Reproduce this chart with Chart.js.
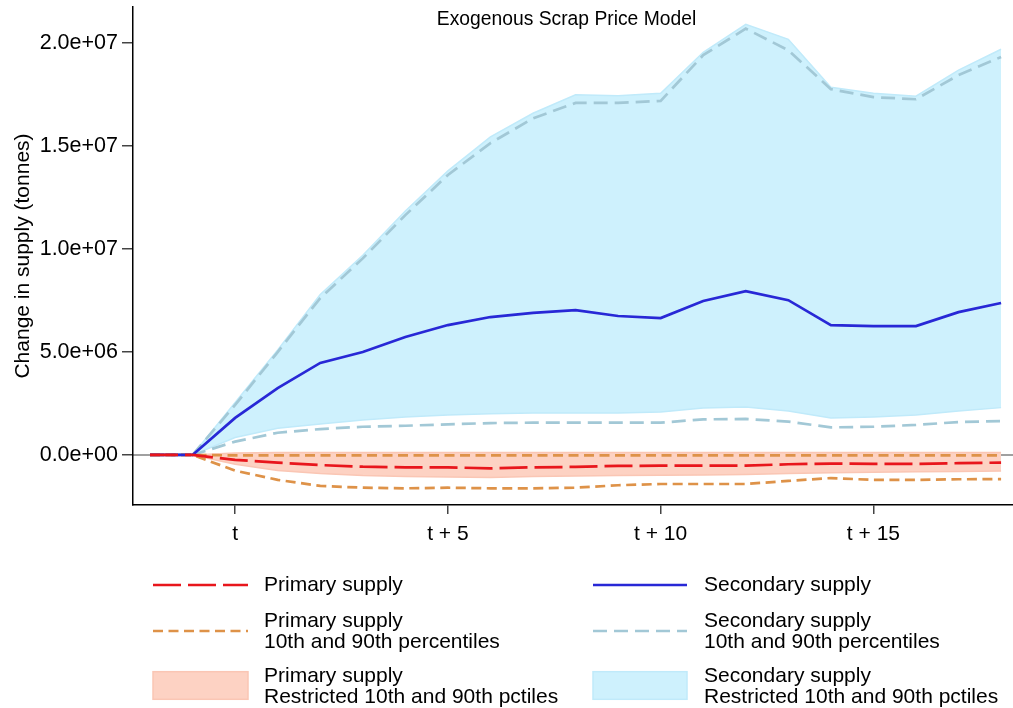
<!DOCTYPE html>
<html>
<head>
<meta charset="utf-8">
<script src="https://cdn.jsdelivr.net/npm/chart.js@4.4.1/dist/chart.umd.min.js"></script>
<style>
  html, body { margin: 0; padding: 0; background: #ffffff; }
  #wrap { width: 1013px; height: 708px; position: relative; }
</style>
</head>
<body>
<div id="wrap"><canvas id="c" width="1013" height="708"></canvas></div>
<script>
// ---- data (millions of tonnes) ----
const periods = [-2, -1, 0, 1, 2, 3, 4, 5, 6, 7, 8, 9, 10, 11, 12, 13, 14, 15, 16, 17, 18];

const primarySupply   = [0, 0, -0.24, -0.37, -0.49, -0.57, -0.60, -0.60, -0.65, -0.60, -0.58, -0.53, -0.52, -0.52, -0.52, -0.45, -0.42, -0.43, -0.43, -0.40, -0.37];
const primaryP90      = [0, 0, -0.02, -0.02, -0.02, -0.02, -0.02, -0.02, -0.02, -0.02, -0.02, -0.02, -0.02, -0.02, -0.02, -0.02, -0.02, -0.02, -0.02, -0.02, -0.02];
const primaryP10      = [0, 0, -0.76, -1.21, -1.50, -1.59, -1.62, -1.59, -1.62, -1.62, -1.59, -1.47, -1.41, -1.41, -1.41, -1.26, -1.12, -1.21, -1.21, -1.18, -1.17];
const primaryBandHi   = [0, 0, 0.10, 0.12, 0.12, 0.12, 0.12, 0.12, 0.12, 0.12, 0.12, 0.12, 0.12, 0.12, 0.12, 0.12, 0.12, 0.12, 0.12, 0.12, 0.12];
const primaryBandLo   = [0, 0, -0.45, -0.75, -0.90, -1.00, -1.05, -1.07, -1.10, -1.05, -1.02, -1.00, -0.98, -0.97, -0.95, -0.90, -0.86, -0.84, -0.82, -0.80, -0.78];

const secondarySupply = [0, 0, 1.80, 3.25, 4.47, 5.00, 5.73, 6.31, 6.70, 6.90, 7.04, 6.75, 6.65, 7.48, 7.96, 7.52, 6.31, 6.26, 6.26, 6.94, 7.38];
const secondaryP90    = [0, 0, 2.43, 5.00, 7.62, 9.55, 11.65, 13.60, 15.15, 16.35, 17.10, 17.10, 17.20, 19.42, 20.71, 19.66, 17.77, 17.38, 17.28, 18.45, 19.33];
const secondaryP10    = [0, 0, 0.65, 1.08, 1.26, 1.37, 1.42, 1.49, 1.55, 1.57, 1.57, 1.57, 1.57, 1.73, 1.75, 1.62, 1.34, 1.37, 1.46, 1.60, 1.65];
const secondaryBandHi = [0, 0, 2.55, 5.10, 7.80, 9.70, 11.85, 13.80, 15.45, 16.60, 17.50, 17.45, 17.57, 19.56, 20.92, 20.19, 17.86, 17.57, 17.43, 18.69, 19.71];
const secondaryBandLo = [0, 0, 0.85, 1.30, 1.50, 1.70, 1.85, 1.94, 2.00, 2.04, 2.04, 2.04, 2.09, 2.28, 2.33, 2.14, 1.80, 1.85, 1.94, 2.14, 2.30];

const xTickValues = [0, 5, 10, 15];
const xTickLabels = ['t', 't + 5', 't + 10', 't + 15'];
const yTickValues = [0, 5e6, 1e7, 1.5e7, 2e7];
const yTickLabels = ['0.0e+00', '5.0e+06', '1.0e+07', '1.5e+07', '2.0e+07'];

const legendLabels = [
  ['Primary supply'],
  ['Secondary supply'],
  ['Primary supply', '10th and 90th percentiles'],
  ['Secondary supply', '10th and 90th percentiles'],
  ['Primary supply', 'Restricted 10th and 90th pctiles'],
  ['Secondary supply', 'Restricted 10th and 90th pctiles']
];

// ---- styles ----
const FONT = "'Liberation Sans', Arial, Helvetica, sans-serif";
const RED = 'rgb(232,22,28)';
const BLUE = 'rgb(40,40,214)';
const ORANGE = 'rgb(222,146,72)';
const STEEL = 'rgb(162,200,214)';
const BAND_BLUE = 'rgb(206,241,253)';
const BAND_BLUE_EDGE = 'rgb(192,234,250)';
const BAND_PINK = 'rgb(253,210,195)';
const BAND_PINK_EDGE = 'rgb(250,198,180)';

const toPts = arr => periods.map((p, i) => ({ x: p, y: arr[i] * 1e6 }));

function lineDs(label, arr, color, dash, width) {
  return { label, data: toPts(arr), borderColor: color, borderWidth: width, borderDash: dash,
           pointRadius: 0, fill: false, tension: 0, borderCapStyle: 'butt' };
}

const datasets = [
  lineDs('Primary supply', primarySupply, RED, [28, 7], 2.7),
  lineDs('Secondary supply', secondarySupply, BLUE, [], 2.7),
  lineDs('Primary p90', primaryP90, ORANGE, [10, 5.5], 2.7),
  lineDs('Primary p10', primaryP10, ORANGE, [10, 5.5], 2.7),
  lineDs('Secondary p90', secondaryP90, STEEL, [14, 7], 2.7),
  lineDs('Secondary p10', secondaryP10, STEEL, [14, 7], 2.7),
  { label: 'Primary band hi', data: toPts(primaryBandHi), borderColor: BAND_PINK_EDGE, borderWidth: 1.5,
    pointRadius: 0, backgroundColor: BAND_PINK, fill: { target: 7 }, tension: 0 },
  { label: 'Primary band lo', data: toPts(primaryBandLo), borderColor: BAND_PINK_EDGE, borderWidth: 1.5,
    pointRadius: 0, fill: false, tension: 0 },
  { label: 'Secondary band hi', data: toPts(secondaryBandHi), borderColor: BAND_BLUE_EDGE, borderWidth: 1.5,
    pointRadius: 0, backgroundColor: BAND_BLUE, fill: { target: 9 }, tension: 0 },
  { label: 'Secondary band lo', data: toPts(secondaryBandLo), borderColor: BAND_BLUE_EDGE, borderWidth: 1.5,
    pointRadius: 0, fill: false, tension: 0 }
];

const zeroLine = {
  id: 'zeroLine',
  beforeDraw(chart) {
    const { ctx, chartArea, scales } = chart;
    const y = scales.y.getPixelForValue(0);
    ctx.save();
    ctx.strokeStyle = 'rgb(160,160,160)';
    ctx.lineWidth = 2;
    ctx.beginPath();
    ctx.moveTo(chartArea.left, y);
    ctx.lineTo(chartArea.right, y);
    ctx.stroke();
    ctx.restore();
  }
};

const extras = {
  id: 'extras',
  afterDraw(chart) {
    const ctx = chart.ctx;
    ctx.save();
    // title
    ctx.fillStyle = '#000';
    ctx.font = '19.3px ' + FONT;
    ctx.textAlign = 'center';
    ctx.textBaseline = 'middle';
    ctx.fillText('Exogenous Scrap Price Model', 566.5, 19.3);

    // legend
    const cols = [{ sx0: 153, sx1: 248, tx: 264 }, { sx0: 593, sx1: 687, tx: 704 }];
    const rows = [
      { sy: 585, ty: [585] },
      { sy: 631, ty: [621, 642] },
      { sy: 685.5, ty: [676, 697] }
    ];
    const symbols = [
      { kind: 'line', color: RED, dash: [28, 7] },
      { kind: 'line', color: BLUE, dash: [] },
      { kind: 'line', color: ORANGE, dash: [10, 5.5] },
      { kind: 'line', color: STEEL, dash: [14, 7] },
      { kind: 'rect', color: BAND_PINK, edge: BAND_PINK_EDGE },
      { kind: 'rect', color: BAND_BLUE, edge: BAND_BLUE_EDGE }
    ];
    ctx.font = '21px ' + FONT;
    ctx.textAlign = 'left';
    for (let i = 0; i < legendLabels.length; i++) {
      const c = cols[i % 2], r = rows[Math.floor(i / 2)], s = symbols[i];
      if (s.kind === 'line') {
        ctx.strokeStyle = s.color;
        ctx.lineWidth = 2.6;
        ctx.setLineDash(s.dash);
        ctx.beginPath();
        ctx.moveTo(c.sx0, r.sy);
        ctx.lineTo(c.sx1, r.sy);
        ctx.stroke();
        ctx.setLineDash([]);
      } else {
        ctx.fillStyle = s.color;
        ctx.fillRect(c.sx0, r.sy - 13.8, c.sx1 - c.sx0, 27.6);
        ctx.strokeStyle = s.edge;
        ctx.lineWidth = 1.5;
        ctx.strokeRect(c.sx0, r.sy - 13.8, c.sx1 - c.sx0, 27.6);
      }
      ctx.fillStyle = '#000';
      legendLabels[i].forEach((t, k) => ctx.fillText(t, c.tx, r.ty[k]));
    }
    ctx.restore();
  }
};

new Chart(document.getElementById('c'), {
  type: 'line',
  data: { datasets },
  options: {
    responsive: false,
    animation: false,
    devicePixelRatio: 1,
    layout: { padding: { top: 7, right: 0, bottom: 158, left: 0 } },
    plugins: {
      legend: { display: false },
      tooltip: { enabled: false },
      filler: { drawTime: 'beforeDatasetsDraw' }
    },
    scales: {
      x: {
        type: 'linear',
        min: -2.4,
        max: 18.28,
        afterFit: s => { s.height = 45; s.paddingLeft = 0; s.paddingRight = 0; },
        afterBuildTicks: s => { s.ticks = xTickValues.map(v => ({ value: v })); },
        border: { display: true, color: '#000', width: 1.5 },
        grid: { display: true, drawOnChartArea: false, drawTicks: true, tickLength: 9, color: '#444', lineWidth: 1.5 },
        ticks: {
          autoSkip: false, maxRotation: 0, padding: 8, color: '#000',
          font: { family: FONT, size: 21 },
          callback: v => xTickLabels[xTickValues.indexOf(v)]
        }
      },
      y: {
        type: 'linear',
        min: -2.43e6,
        max: 21.76e6,
        afterFit: s => { s.width = 133; s.paddingTop = 0; s.paddingBottom = 0; },
        afterBuildTicks: s => { s.ticks = yTickValues.map(v => ({ value: v })); },
        border: { display: true, color: '#000', width: 1.5 },
        grid: { display: true, drawOnChartArea: false, drawTicks: true, tickLength: 11, color: '#444', lineWidth: 1.5 },
        title: {
          display: true, text: 'Change in supply (tonnes)', color: '#000',
          font: { family: FONT, size: 21 }, padding: { top: 10.4, bottom: 0 }
        },
        ticks: {
          autoSkip: false, padding: 4, color: '#000',
          font: { family: FONT, size: 21.5 },
          callback: v => yTickLabels[yTickValues.indexOf(v)]
        }
      }
    }
  },
  plugins: [zeroLine, extras]
});
</script>
</body>
</html>
